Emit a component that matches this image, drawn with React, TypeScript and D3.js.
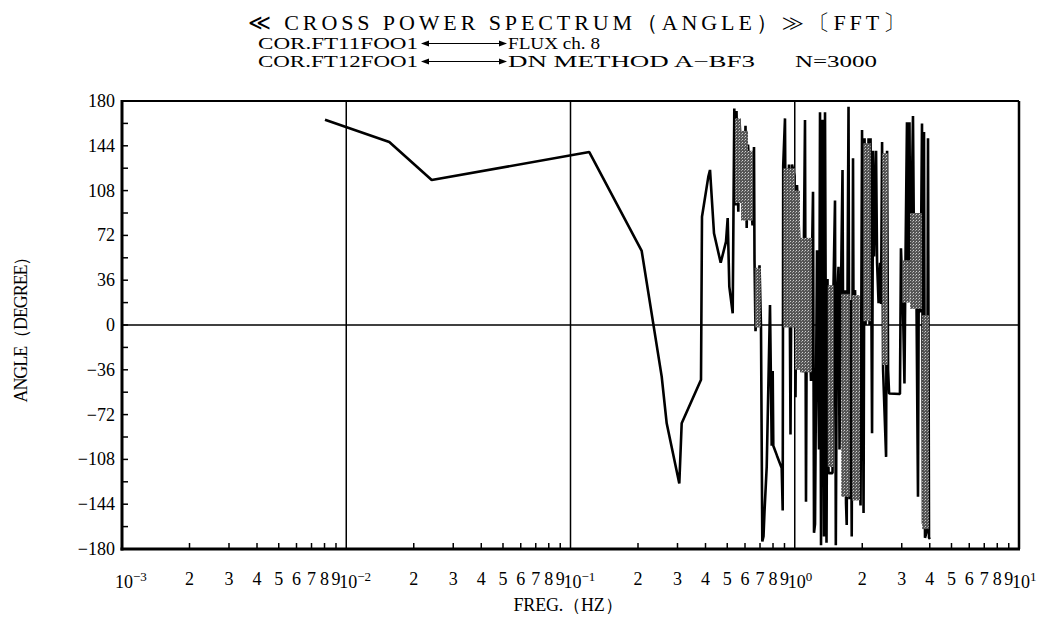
import React from "react";
import * as d3 from "d3";

// ---- data ----
// [frequency (Hz), angle (degree)]
const spectrumPoints: [number, number][] = [
  [0.00804, 165], [0.01556, 147], [0.02405, 116.5], [0.1213, 139], [0.2077, 59.5],
  [0.2551, -41.5], [0.2685, -79], [0.3056, -127.4], [0.3132, -79], [0.3819, -44],
  [0.3858, 87], [0.4116, 119], [0.4189, 124.6], [0.4364, 73.7], [0.4675, 50],
  [0.4937, 67], [0.5023, 86], [0.5107, 30.8], [0.5288, 9.4], [0.5376, 174],
  [0.5442, 96], [0.5499, 172], [0.5601, 91], [0.567, 165],
  [0.5939, 92], [0.6031, 160], [0.6105, 78], [0.6188, 145],
  [0.6481, 80], [0.6581, 143], [0.6615, 52],
  [0.6683, -5], [0.6964, 48], [0.7071, -2],
  [0.7166, -174], [0.7255, -170], [0.733, -150], [0.7498, -114], [0.7756, 16],
  [0.7892, -97], [0.7974, -37], [0.8023, -97], [0.8333, -105], [0.8746, -115],
  [0.8836, -149], [0.8882, 128], [0.9047, 166], [0.9141, 10],
  [0.9427, 129], [0.9573, -88], [0.9722, 129],
  [0.9974, 120], [1.0077, -58], [1.0234, 112.5],
  [1.0446, 75], [1.0884, -38], [1.0996, 75],
  [1.111, 164.7], [1.1225, -142], [1.1341, 57],
  [1.1817, -45], [1.1939, 55], [1.2063, 107], [1.2187, -167], [1.2313, -160],
  [1.2568, 60], [1.2829, -100], [1.2962, 171], [1.3096, -177], [1.3298, 165],
  [1.3505, -170], [1.3644, 171], [1.3856, -175], [1.3999, 37], [1.4144, -119],
  [1.4737, -119], [1.4889, 32],
  [1.5119, 100], [1.5244, -177], [1.5434, 20], [1.5674, 46.8], [1.5836, -100],
  [1.6081, 30], [1.6331, 124.6], [1.65, -101], [1.6756, 28], [1.6929, -143],
  [1.7051, -160.7], [1.7192, 25], [1.737, 175.4], [1.7549, -140], [1.7731, 20],
  [1.795, -170], [1.8191, 134], [1.8379, -140], [1.8569, 28],
  [1.965, -145], [1.9956, 156.7],
  [2.0267, -151], [2.0477, 150], [2.0688, 0],
  [2.1336, 150], [2.1557, 0], [2.1779, 150], [2.2119, -87], [2.2347, 140],
  [2.2578, 55], [2.3048, 140], [2.3286, 50], [2.3649, 17.5], [2.4017, 50],
  [2.4266, 17], [2.4516, 147], [2.4769, -36],
  [2.5545, -106], [2.5808, 140], [2.6075, -36], [2.6344, -55], [2.9454, -55.5],
  [2.9758, 61.7], [3.0377, 15], [3.085, -47], [3.1169, 50], [3.1654, 163],
  [3.198, 20], [3.2478, 163], [3.2814, 30], [3.3669, 168],
  [3.4016, 60], [3.4903, 20], [3.5446, -138], [3.5813, 90],
  [3.637, 10], [3.6936, 162], [3.7318, -160], [3.7703, 155], [3.8093, -171],
  [3.8885, -165], [3.9287, 150], [3.9693, -171], [4.0103, -172],
];

// dense (unresolvable) oscillation bands: [f0, f1, low angle, high angle]
const denseBands: [number, number, number, number][] = [
  [0.5420, 0.5758, 98, 166],
  [0.5758, 0.6188, 84, 156],
  [0.6188, 0.6514, 84, 140],
  [0.6640, 0.7040, -2, 46],
  [0.8900, 1.0026, -2, 126],
  [1.0026, 1.0554, -36, 108],
  [1.0554, 1.1900, -38, 70],
  [1.4030, 1.4930, -114, 32],
  [1.6120, 1.7600, -138, 25],
  [1.8030, 1.9500, -141, 24],
  [2.0200, 2.1840, 3, 146],
  [2.4560, 2.6030, -32, 138],
  [3.0120, 3.2600, 18, 52],
  [3.2700, 3.6900, 13, 90],
  [3.7000, 3.9600, -164, 8],
];

const yMajorTicks = [-180, -144, -108, -72, -36, 0, 36, 72, 108, 144, 180];
const yTickLabels = ["−180", "−144", "−108", "−72", "−36", "0", "36", "72", "108", "144", "180"];
const decades = [1e-3, 1e-2, 1e-1, 1e0, 1e1];
const decadeExponents = ["−3", "−2", "−1", "0", "1"];
const minorDigits = [2, 3, 4, 5, 6, 7, 8, 9];

const TITLE = "≪ CROSS POWER SPECTRUM（ANGLE）≫〔FFT〕";
const SUB1_LEFT = "COR.FT11FOO1";
const SUB1_RIGHT = "FLUX  ch. 8";
const SUB2_LEFT = "COR.FT12FOO1";
const SUB2_RIGHT = "DN  METHOD  A−BF3";
const SUB2_N = "N=3000";
const X_LABEL = "FREG.（HZ）";
const Y_LABEL = "ANGLE（DEGREE）";

const W = 1047;
const H = 625;
const M = { left: 122, right: 1019, top: 101, bottom: 549 };
const FONT = "'Liberation Serif', 'DejaVu Serif', serif";

export default function App() {
  const x = d3.scaleLog().domain([1e-3, 1e1]).range([M.left, M.right]);
  const y = d3.scaleLinear().domain([-180, 180]).range([M.bottom, M.top]);

  const line = d3
    .line<[number, number]>()
    .x((d) => x(d[0]))
    .y((d) => y(d[1]));

  const yMinor = d3.range(-180, 181, 18);
  const xMinor: number[] = [];
  decades.slice(0, -1).forEach((d) => minorDigits.forEach((m) => xMinor.push(d * m)));

  return (
    <svg
      width={W}
      height={H}
      style={{ position: "absolute", left: 0, top: 0, background: "#fff" }}
      fontFamily={FONT}
    >
      <defs>
        <pattern id="stipple" width="3" height="3" patternUnits="userSpaceOnUse">
          <rect width="3" height="3" fill="#555" />
          <rect x="1" y="1" width="1" height="1" fill="#d0d0d0" />
          <rect x="0" y="2" width="1" height="1" fill="#999" />
        </pattern>
      </defs>
      <rect width={W} height={H} fill="#fff" />

      {/* title */}
      <text x={248} y={30} fontSize={22} textLength={657} lengthAdjust="spacing">
        {TITLE}
      </text>

      {/* subtitle lines */}
      <g fontSize={16}>
        <text x={258} y={48.5} textLength={160} lengthAdjust="spacingAndGlyphs">{SUB1_LEFT}</text>
        <text x={508} y={48.5} textLength={92} lengthAdjust="spacingAndGlyphs">{SUB1_RIGHT}</text>
        <text x={258} y={66.5} textLength={160} lengthAdjust="spacingAndGlyphs">{SUB2_LEFT}</text>
        <text x={508} y={66.5} textLength={247} lengthAdjust="spacingAndGlyphs">{SUB2_RIGHT}</text>
        <text x={795} y={66.5} textLength={82} lengthAdjust="spacingAndGlyphs">{SUB2_N}</text>
      </g>
      {[43.5, 61.5].map((yy) => (
        <g key={yy} stroke="#000" strokeWidth={1.2} fill="#000">
          <line x1={425} x2={503} y1={yy} y2={yy} />
          <path d={`M${421},${yy} l8,-3 l0,6 z`} stroke="none" />
          <path d={`M${507},${yy} l-8,-3 l0,6 z`} stroke="none" />
        </g>
      ))}

      {/* decade grid lines */}
      {decades.slice(1, -1).map((d) => (
        <line key={d} x1={x(d)} x2={x(d)} y1={M.top} y2={M.bottom} stroke="#000" strokeWidth={1.5} />
      ))}
      {/* zero line */}
      <line x1={M.left} x2={M.right} y1={y(0)} y2={y(0)} stroke="#000" strokeWidth={1.6} />

      {/* spectrum line */}
      <path
        d={line(spectrumPoints) || ""}
        fill="none"
        stroke="#000"
        strokeWidth={2.6}
        strokeLinejoin="bevel"
      />

      {/* dense bands (drawn over the line's interior strokes) */}
      {denseBands.map((b, i) => (
        <rect
          key={i}
          x={x(b[0])}
          width={x(b[1]) - x(b[0])}
          y={y(b[3])}
          height={y(b[2]) - y(b[3])}
          fill="url(#stipple)"
        />
      ))}

      {/* frame */}
      <line x1={M.left} x2={M.right} y1={M.top} y2={M.top} stroke="#000" strokeWidth={2} />
      <line x1={M.right} x2={M.right} y1={M.top} y2={M.bottom} stroke="#000" strokeWidth={2.5} />
      <line x1={M.left} x2={M.left} y1={M.top - 1} y2={M.bottom + 1.5} stroke="#000" strokeWidth={3} />
      <line x1={M.left - 1.5} x2={M.right + 1} y1={M.bottom} y2={M.bottom} stroke="#000" strokeWidth={3} />

      {/* y ticks */}
      {yMinor.map((v) => (
        <line key={v} x1={M.left} x2={M.left + 6} y1={y(v)} y2={y(v)} stroke="#000" strokeWidth={1.5} />
      ))}
      {yMajorTicks.map((v, i) => (
        <text key={v} x={115} y={y(v) + 6} fontSize={18} textAnchor="end">
          {yTickLabels[i]}
        </text>
      ))}

      {/* x ticks */}
      {xMinor.map((v) => (
        <line key={v} x1={x(v)} x2={x(v)} y1={M.bottom} y2={M.bottom - 6} stroke="#000" strokeWidth={1.5} />
      ))}
      {xMinor.map((v) => (
        <text key={"l" + v} x={x(v)} y={585} fontSize={18} textAnchor="middle">
          {Math.round(v / Math.pow(10, Math.floor(Math.log10(v) + 1e-9)))}
        </text>
      ))}
      {decades.map((d, i) => (
        <text key={"d" + d} x={x(d) - 7} y={588} fontSize={18}>
          10
          <tspan dy={-7} fontSize={13}>{decadeExponents[i]}</tspan>
        </text>
      ))}

      {/* axis titles */}
      <text x={568} y={611} fontSize={18} textAnchor="middle" textLength={109} lengthAdjust="spacing">
        {X_LABEL}
      </text>
      <text
        transform={`translate(27,${y(0)}) rotate(-90)`}
        fontSize={18}
        textAnchor="middle"
        textLength={155}
        lengthAdjust="spacing"
      >
        {Y_LABEL}
      </text>
    </svg>
  );
}
